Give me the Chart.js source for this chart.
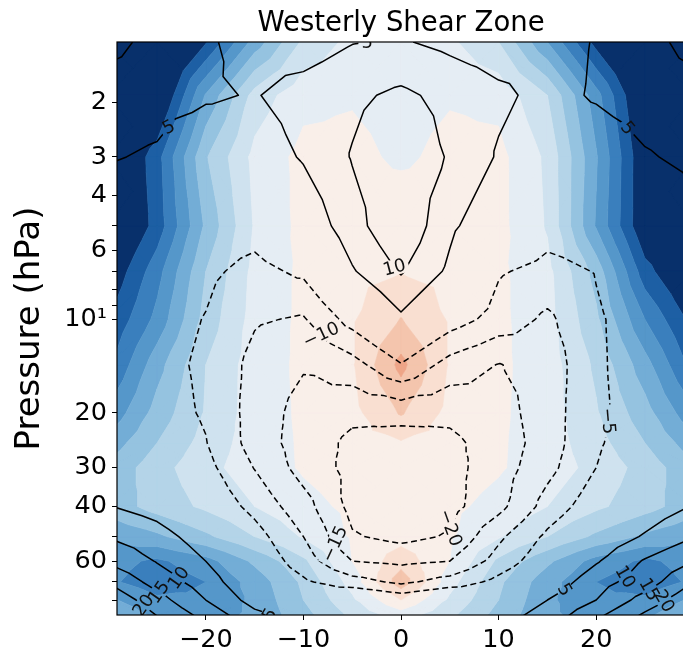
<!DOCTYPE html>
<html>
<head>
<meta charset="utf-8">
<script src="https://cdn.jsdelivr.net/npm/chart.js@4/dist/chart.umd.min.js"></script>
<style>
  html, body { margin: 0; padding: 0; background: #fff; overflow: hidden; }
  #wrap { width: 700px; height: 651px; }
</style>
</head>
<body>
<div id="wrap"><canvas id="c" width="700" height="651"></canvas></div>
<script>
// ---- grid ---------------------------------------------------------------
const lonNodes = [-30, -25, -20, -15, -10, -5, 0, 5, 10, 15, 20, 25, 30];
const pressureLevels = [1.28, 1.9, 3, 5, 7, 10, 14, 20, 25, 30, 40, 50, 60, 70, 80, 90];

// shaded field: one row per pressure level, one value per longitude node
const shadedWind = [
  [-60, -52, -40.5, -23, -9, -3.5, -3, -4, -10, -25, -42, -55, -60],
  [-55, -48, -24.5, -8, -1.5, -0.5, -2, -0.5, -1.5, -10, -28, -48, -55],
  [-50, -37, -15.5, -3.5, 1.5, 1.5, -1, 1.5, 1.5, -6, -24.5, -45, -52],
  [-50, -38, -19, -4.5, 1.5, 3, 4, 3, 1.5, -5.5, -25.5, -45, -50],
  [-45, -32, -15, -3.5, 1, 3.5, 4.8, 3.5, 1, -3.5, -17, -38, -48],
  [-40, -28.5, -13, -3, 1, 4.5, 10.2, 4.5, 1, -3, -14, -30, -42],
  [-36, -22, -10, -2.5, 1, 4.5, 16.5, 4.5, 1, -2.5, -11, -23, -37],
  [-29, -18, -9.5, -2.5, 0.8, 3.5, 10.5, 3.5, 0.8, -2.5, -9.5, -18, -29],
  [-23, -15, -8, -2.5, 0.6, 3, 4.5, 3, 0.6, -2.5, -8, -15, -23],
  [-19, -12, -6.5, -2.5, 0.5, 2.5, 3.5, 2.5, 0.5, -2.5, -6.5, -12, -19],
  [-18, -13, -9, -5, -1.5, 1, 2, 1, -1.5, -5, -9, -13, -18],
  [-24, -21, -16, -10, -4.5, 0.5, 3, 0.5, -4.5, -10, -16, -21, -24],
  [-28, -31, -27, -19, -11, 0, 8, 0, -11, -19, -27, -31, -28],
  [-29, -33, -30, -23, -14, -3, 13, -3, -14, -23, -30, -33, -29],
  [-24, -29, -29, -24, -15, -6, 5, -6, -15, -24, -29, -29, -24],
  [-20, -26, -27, -24, -17, -9, -3, -9, -17, -24, -27, -26, -20]
];

// contoured field, same layout
const shearField = [
  [12, 8, 5.7, 3, 2.5, 4.8, 5.4, 3.8, 2.5, 3, 5.3, 8, 12],
  [7, 6.5, 5.6, 4.7, 7, 9, 11, 8.5, 6, 3.5, 5.5, 7, 7.7],
  [5.3, 4.5, 1.5, 2, 5.5, 10.3, 14, 9.5, 4.5, 2, 2, 4.6, 6],
  [3, 1, -2, -3, 1, 8, 14.4, 6, 1, -3, -2, 1, 3.5],
  [1, -2, -4, -6.5, -4, 4.5, 10.5, 4, -4.5, -6.5, -4.8, -2, 1],
  [0, -3, -5.2, -9.5, -10.5, -3, 4, -2.5, -7, -11, -5.5, -3, 0],
  [-0.5, -3.5, -5.8, -11.5, -14.5, -12, -5.3, -12, -15.2, -13, -5.6, -3, -0.5],
  [0, -3, -5.5, -12, -17, -19, -18.5, -19, -17, -12.5, -5.8, -3, 0],
  [1, -2, -4.8, -12, -17.5, -21, -22, -21, -18, -12.5, -5.5, -2.5, 0.5],
  [2, -1, -3.5, -10.2, -17, -21.5, -23, -21.5, -17.5, -11.5, -5, -1.5, 2],
  [5.2, 3, -1, -6.5, -13, -21.5, -23.5, -21.5, -16.5, -8, -2, 2, 5.3],
  [9.8, 7, 2.5, -3, -10, -19.5, -21.5, -19.5, -11, -4, 1.5, 5.5, 9.8],
  [14.3, 9.7, 5, -1, -7.5, -15, -16, -15, -8, -1.5, 4.5, 10.5, 15],
  [19.7, 13, 7.5, 0.5, -4.2, -8, -11, -8, -3.5, 1.5, 8, 12.5, 20],
  [24, 17, 10, 3, 0, 2, -1.5, 2, 1, 5, 10, 17, 24],
  [27, 20, 13.5, 6.5, 2.5, 3, 3, 3, 3, 7, 14, 21, 27]
];

const shadeLevels = [-40, -35, -30, -25, -20, -15, -10, -5, 0, 5, 10, 15];
const lineLevels = [-20, -15, -10, -5, 5, 10, 15, 20];

const lonTicks = [-20, -10, 0, 10, 20];
const pressureTicks = [2, 3, 4, 5, 6, 7, 8, 9, 10, 20, 30, 40, 50, 60, 70, 80];
const pressureTickLabels = ['2', '3', '4', '', '6', '', '', '', '10\u00b9', '20', '30', '40', '', '60', '', ''];

// ---- styling ----------------------------------------------------------------
const shadeColors = ['#08306b', '#1d5fa4', '#3a7fbd', '#5597ca', '#73add6', '#95c3e0',
  '#b4d4e8', '#cfe2ef', '#e5edf4', '#f9efe9', '#f9dfd1', '#f4c5ad', '#eea588'];

// where each contour label sits (snapped onto its line) and how it is turned
const contourLabelSpots = [
  { level: 5, lon: -3.4, p: 1.33, angle: 0 },
  { level: 5, lon: -23, p: 2.52, angle: -28 },
  { level: 5, lon: 23, p: 2.46, angle: 50 },
  { level: 10, lon: -0.8, p: 6.84, angle: -15 },
  { level: -10, lon: -8, p: 11.06, angle: -25 },
  { level: -15, lon: -7.6, p: 55, angle: -65 },
  { level: -20, lon: 5.5, p: 47.5, angle: 70 },
  { level: -5, lon: 20.4, p: 21, angle: 85 },
  { level: 20, lon: -26.5, p: 84, angle: -55 },
  { level: 15, lon: -24.7, p: 74.3, angle: -55 },
  { level: 10, lon: -22.7, p: 67.3, angle: -55 },
  { level: 5, lon: -13.4, p: 88, angle: -60 },
  { level: 5, lon: 16.8, p: 74.3, angle: 60 },
  { level: 10, lon: 23.2, p: 68.8, angle: 60 },
  { level: 15, lon: 25.5, p: 74.3, angle: 60 },
  { level: 20, lon: 26.9, p: 79.8, angle: 60 }
];

const FONT = '"DejaVu Sans", "Liberation Sans", sans-serif';
const fmtNum = v => (v < 0 ? '\u2212' + Math.abs(v) : String(v));

// ---- mesh helpers -----------------------------------------------------------
function buildMesh(chart, field) {
  const xs = chart.scales.x, ys = chart.scales.y;
  const nx = lonNodes.length, ny = pressureLevels.length;
  const px = lonNodes.map(v => xs.getPixelForValue(v));
  const py = pressureLevels.map(v => ys.getPixelForValue(v));
  const node = (i, j) => ({ id: j * nx + i, x: px[i], y: py[j], v: field[j][i] });
  const tris = [];
  for (let j = 0; j < ny - 1; j++) {
    for (let i = 0; i < nx - 1; i++) {
      const a = node(i, j), b = node(i + 1, j), c = node(i + 1, j + 1), d = node(i, j + 1);
      const m = {
        id: nx * ny + j * (nx - 1) + i,
        x: (a.x + b.x + c.x + d.x) / 4,
        y: (a.y + b.y + c.y + d.y) / 4,
        v: (a.v + b.v + c.v + d.v) / 4
      };
      tris.push([a, b, m], [b, c, m], [c, d, m], [d, a, m]);
    }
  }
  return tris;
}

function clipPoly(poly, L, keepAbove) {
  const out = [];
  for (let k = 0; k < poly.length; k++) {
    const A = poly[k], B = poly[(k + 1) % poly.length];
    const ina = keepAbove ? A.v >= L : A.v < L;
    const inb = keepAbove ? B.v >= L : B.v < L;
    if (ina) out.push(A);
    if (ina !== inb) {
      const t = (L - A.v) / (B.v - A.v);
      out.push({ x: A.x + t * (B.x - A.x), y: A.y + t * (B.y - A.y), v: L });
    }
  }
  return out;
}

function traceLevel(tris, L) {
  const pts = new Map(), adj = new Map(), segs = [];
  for (const t of tris) {
    const cross = [];
    for (let e = 0; e < 3; e++) {
      const A = t[e], B = t[(e + 1) % 3];
      if ((A.v >= L) !== (B.v >= L)) {
        const key = A.id < B.id ? A.id + '_' + B.id : B.id + '_' + A.id;
        if (!pts.has(key)) {
          const s = (L - A.v) / (B.v - A.v);
          pts.set(key, { x: A.x + s * (B.x - A.x), y: A.y + s * (B.y - A.y) });
        }
        cross.push(key);
      }
    }
    if (cross.length === 2) {
      const si = segs.length;
      segs.push(cross);
      for (const k of cross) {
        if (!adj.has(k)) adj.set(k, []);
        adj.get(k).push(si);
      }
    }
  }
  const used = new Array(segs.length).fill(false);
  const lines = [];
  const extend = chain => {
    let cur = chain[chain.length - 1];
    for (;;) {
      const next = (adj.get(cur) || []).find(s => !used[s]);
      if (next === undefined) break;
      used[next] = true;
      const seg = segs[next];
      cur = seg[0] === cur ? seg[1] : seg[0];
      chain.push(cur);
    }
  };
  for (let s = 0; s < segs.length; s++) {
    if (used[s]) continue;
    used[s] = true;
    let chain = [segs[s][0], segs[s][1]];
    extend(chain);
    chain.reverse();
    extend(chain);
    lines.push(chain.map(k => pts.get(k)));
  }
  return lines;
}

// ---- plugin drawing the shaded and contoured fields -------------------------
const LABEL_FONT = '18px ' + FONT;
const fieldPlugin = {
  id: 'fieldPlugin',
  beforeDatasetsDraw(chart) {
    const { ctx, chartArea: a } = chart;
    const tris = buildMesh(chart, shadedWind);
    const bounds = [-Infinity, ...shadeLevels, Infinity];
    ctx.save();
    ctx.beginPath();
    ctx.rect(a.left, a.top, a.right - a.left, a.bottom - a.top);
    ctx.clip();
    for (let k = 0; k < bounds.length - 1; k++) {
      ctx.beginPath();
      let any = false;
      for (const t of tris) {
        let poly = t;
        if (isFinite(bounds[k])) poly = clipPoly(poly, bounds[k], true);
        if (poly.length < 3) continue;
        if (isFinite(bounds[k + 1])) poly = clipPoly(poly, bounds[k + 1], false);
        if (poly.length < 3) continue;
        ctx.moveTo(poly[0].x, poly[0].y);
        for (let q = 1; q < poly.length; q++) ctx.lineTo(poly[q].x, poly[q].y);
        ctx.closePath();
        any = true;
      }
      if (!any) continue;
      ctx.fillStyle = shadeColors[k];
      ctx.strokeStyle = shadeColors[k];
      ctx.lineWidth = 0.6;
      ctx.fill();
      ctx.stroke();
    }
    ctx.restore();
  },
  afterDatasetsDraw(chart) {
    const { ctx, chartArea: a } = chart;
    const tris = buildMesh(chart, shearField);
    const linesByLevel = new Map();
    for (const L of lineLevels) linesByLevel.set(L, traceLevel(tris, L));

    // place labels on their lines
    ctx.font = LABEL_FONT;
    const labels = [];
    for (const spot of contourLabelSpots) {
      let cx = chart.scales.x.getPixelForValue(spot.lon);
      let cy = chart.scales.y.getPixelForValue(spot.p);
      let best = null, bestD = 1e9;
      for (const line of linesByLevel.get(spot.level) || []) {
        for (let q = 0; q < line.length - 1; q++) {
          const A = line[q], B = line[q + 1];
          const dx = B.x - A.x, dy = B.y - A.y;
          const len2 = dx * dx + dy * dy || 1;
          let t = ((cx - A.x) * dx + (cy - A.y) * dy) / len2;
          t = Math.max(0, Math.min(1, t));
          const X = A.x + t * dx, Y = A.y + t * dy;
          const d = (X - cx) ** 2 + (Y - cy) ** 2;
          if (d < bestD) { bestD = d; best = { x: X, y: Y }; }
        }
      }
      if (best && bestD < 45 * 45) { cx = best.x; cy = best.y; }
      const text = fmtNum(spot.level);
      const w = ctx.measureText(text).width;
      labels.push({ x: cx, y: cy, text, hw: w / 2 + 3, hh: 8, ang: spot.angle * Math.PI / 180 });
    }

    ctx.save();
    ctx.beginPath();
    ctx.rect(a.left, a.top, a.right - a.left, a.bottom - a.top);
    ctx.clip();
    // knock gaps in the lines where labels sit
    ctx.beginPath();
    ctx.rect(-10, -10, chart.width + 20, chart.height + 20);
    for (const lb of labels) {
      const c = Math.cos(lb.ang), s = Math.sin(lb.ang);
      const corners = [[-lb.hw, -lb.hh], [lb.hw, -lb.hh], [lb.hw, lb.hh], [-lb.hw, lb.hh]];
      corners.forEach(([dx, dy], idx) => {
        const X = lb.x + dx * c - dy * s, Y = lb.y + dx * s + dy * c;
        if (idx === 0) ctx.moveTo(X, Y); else ctx.lineTo(X, Y);
      });
      ctx.closePath();
    }
    ctx.clip('evenodd');

    ctx.strokeStyle = '#000';
    ctx.lineWidth = 1.5;
    ctx.lineJoin = 'round';
    for (const L of lineLevels) {
      ctx.setLineDash(L < 0 ? [6, 3.5] : []);
      for (const line of linesByLevel.get(L)) {
        ctx.beginPath();
        ctx.moveTo(line[0].x, line[0].y);
        for (let q = 1; q < line.length; q++) ctx.lineTo(line[q].x, line[q].y);
        ctx.stroke();
      }
    }
    ctx.restore();

    // label text
    ctx.save();
    ctx.beginPath();
    ctx.rect(a.left, a.top, a.right - a.left, a.bottom - a.top);
    ctx.clip();
    ctx.fillStyle = '#111';
    ctx.font = LABEL_FONT;
    ctx.textAlign = 'center';
    ctx.textBaseline = 'middle';
    for (const lb of labels) {
      ctx.save();
      ctx.translate(lb.x, lb.y);
      ctx.rotate(lb.ang);
      ctx.fillText(lb.text, 0, 1);
      ctx.restore();
    }
    ctx.restore();
  },
  afterDraw(chart) {
    const { ctx, chartArea: a } = chart;
    ctx.save();
    ctx.strokeStyle = '#000';
    ctx.lineWidth = 1.2;
    ctx.strokeRect(a.left, a.top, a.right - a.left, a.bottom - a.top);
    ctx.fillStyle = '#000';
    ctx.font = '27.5px ' + FONT;
    ctx.textAlign = 'center';
    ctx.textBaseline = 'alphabetic';
    ctx.fillText('Westerly Shear Zone', (a.left + a.right) / 2, 31);
    ctx.restore();
  }
};

new Chart(document.getElementById('c'), {
  type: 'scatter',
  data: { datasets: [{ data: [], pointRadius: 0 }] },
  plugins: [fieldPlugin],
  options: {
    responsive: false,
    animation: false,
    layout: { padding: { top: 42, right: 15, left: 0, bottom: 0 } },
    plugins: { legend: { display: false }, tooltip: { enabled: false }, title: { display: false } },
    scales: {
      x: {
        type: 'linear',
        min: -29.1,
        max: 29.1,
        afterFit(s) { s.height = 36; },
        afterBuildTicks(s) { s.ticks = lonTicks.map(v => ({ value: v })); },
        ticks: {
          font: { family: FONT, size: 25.5 },
          color: '#000',
          padding: 5,
          maxRotation: 0,
          autoSkip: false,
          callback: v => fmtNum(v)
        },
        grid: { drawOnChartArea: false, drawTicks: true, tickLength: 5, color: '#000' },
        border: { display: false }
      },
      y: {
        type: 'logarithmic',
        reverse: true,
        min: 1.28,
        max: 89.4,
        afterFit(s) { s.width = 117; },
        afterBuildTicks(s) { s.ticks = pressureTicks.map(v => ({ value: v })); },
        ticks: {
          font: { family: FONT, size: 25.5 },
          color: '#000',
          padding: 5,
          autoSkip: false,
          callback: (v, i) => pressureTickLabels[i]
        },
        grid: { drawOnChartArea: false, drawTicks: true, tickLength: 5, color: '#000' },
        border: { display: false },
        title: {
          display: true,
          text: 'Pressure (hPa)',
          color: '#000',
          font: { family: FONT, size: 34 },
          padding: { top: 10, bottom: 0 }
        }
      }
    }
  }
});
</script>
</body>
</html>
